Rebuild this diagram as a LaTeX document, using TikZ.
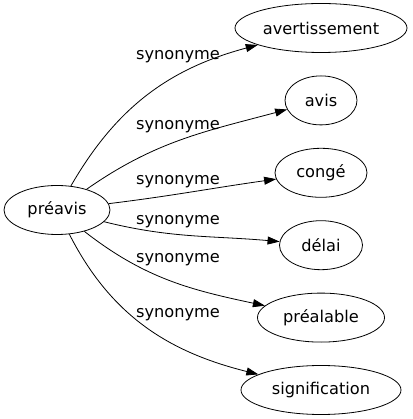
\documentclass[tikz,border=0pt]{standalone}
\usepackage{fontspec}
\setmainfont{DejaVu Sans}
\usetikzlibrary{shapes.geometric, positioning, arrows.meta}

\begin{document}
\begin{tikzpicture}[>={Triangle[length=12pt,width=8pt]},node distance=72.4pt,on grid,
    word/.style={ellipse,draw,line width=0.8pt,inner sep=0pt,minimum height=49pt},
    rel/.style={inner sep=0pt},
    font=\fontsize{16.2}{19}\selectfont]
       \node[word,minimum width=106pt] (preavis) {préavis};
       \node[word,minimum width=172pt] (avertissement) [above right=182pt and 264pt of preavis] {avertissement};
       \node[word,minimum width=72pt] (avis) [below=of avertissement] {avis};
       \node[word,minimum width=92pt] (conge) [below=of avis] {congé};
       \node[word,minimum width=83pt] (delai) [below=of conge] {délai};
       \node[word,minimum width=127pt] (prealable) [below=of delai] {préalable};
       \node[word,minimum width=160pt] (signification) [below=of prealable] {signification};
       % labels
       \node[rel] (l1) [above right=153pt and 121pt of preavis] {synonyme};
       \node[rel] (l2) [above right=83pt and 121pt of preavis] {synonyme};
       \node[rel] (l3) [above right=28pt and 121pt of preavis] {synonyme};
       \node[rel] (l4) [below right=12pt and 121pt of preavis] {synonyme};
       \node[rel] (l5) [below right=50pt and 121pt of preavis] {synonyme};
       \node[rel] (l6) [below right=105pt and 121pt of preavis] {synonyme};
        \path[->,line width=0.8pt]
        (preavis) edge [out=60,in=195] (avertissement)
                  edge [out=35,in=195] (avis)
                  edge [out=7,in=188] (conge)
                  edge [out=-14,in=175] (delai)
                  edge [out=-38,in=168] (prealable)
                  edge [out=-63,in=166] (signification);
       \useasboundingbox (-57pt,-209pt) rectangle (355pt,210pt);
    \end{tikzpicture}
\end{document}
